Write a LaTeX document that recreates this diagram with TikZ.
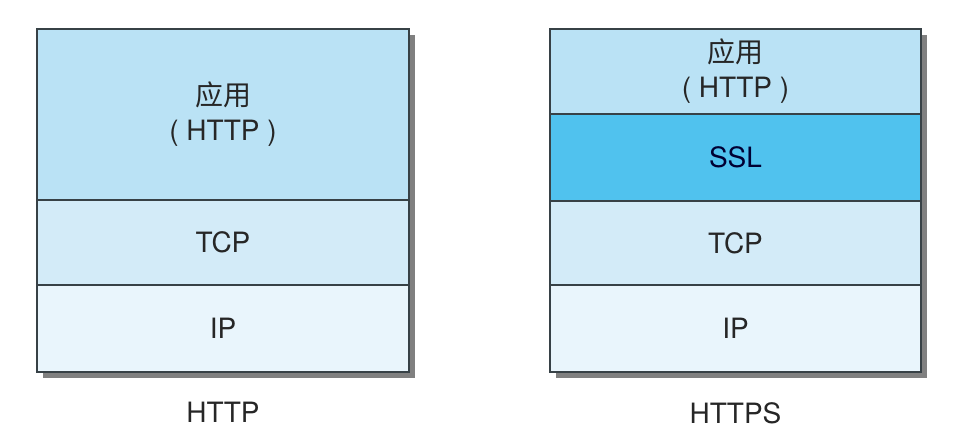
\documentclass[tikz,border=0pt]{standalone}
\usepackage{fontspec}
\setmainfont{TeX Gyre Heros}
\newfontfamily\cjk{Noto Sans CJK SC}
\usepackage{tikz}
\usetikzlibrary{positioning, shadows}

\definecolor{appblue}{RGB}{186,226,245}
\definecolor{tcpblue}{RGB}{211,235,248}
\definecolor{ipblue}{RGB}{233,245,252}
\definecolor{sslblue}{RGB}{80,194,238}
\definecolor{edgegray}{RGB}{55,65,70}

\begin{document}
\begin{tikzpicture}[
        x=1pt, y=-1pt,
        layer/.style={rectangle, draw=edgegray, line width=1.4pt, inner sep=0pt, outer sep=0pt,
            minimum width=372pt, align=center, text=black!85,
            font=\fontsize{28}{35}\selectfont,
            drop shadow={shadow xshift=6pt, shadow yshift=-6pt, fill=black!50, opacity=1}},
        app/.style={layer, fill=appblue},
        ssl/.style={layer, fill=sslblue, text=black!80!blue},
        tcp/.style={layer, fill=tcpblue, minimum height=85pt},
        ip/.style={layer, fill=ipblue, minimum height=87pt},
        caption/.style={inner sep=0pt, text=black!85, font=\fontsize{28}{34}\selectfont}
    ]
        \useasboundingbox[fill=white] (0,0) rectangle (956,434);
        % HTTP
        \node[app, anchor=north west, minimum height=171pt] (lapp) at (37,29)
            {{\cjk 应用}\\( HTTP )};
        \node[tcp, below=0pt of lapp] (ltcp) {TCP};
        \node[ip, below=0pt of ltcp] (lip) {IP};
        \node[caption, below=30pt of lip] (lcap) {HTTP};
        % HTTPS
        \node[app, anchor=north west, minimum width=371pt, minimum height=85pt] (rapp) at (550,29)
            {{\cjk 应用}\\( HTTP )};
        \node[ssl, below=0pt of rapp, minimum width=371pt, minimum height=87pt] (rssl) {SSL};
        \node[tcp, below=0pt of rssl, minimum width=371pt, minimum height=84pt] (rtcp) {TCP};
        \node[ip, below=0pt of rtcp, minimum width=371pt] (rip) {IP};
        \node[caption, below=30pt of rip] (rcap) {HTTPS};
    \end{tikzpicture}
\end{document}
